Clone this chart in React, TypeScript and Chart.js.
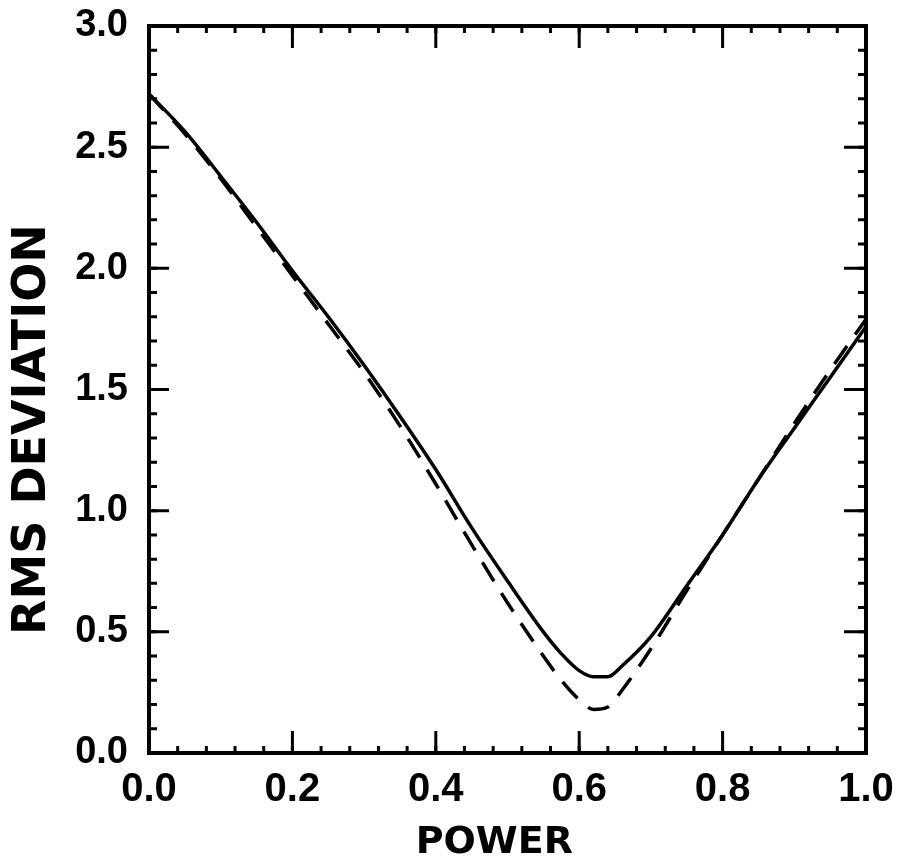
import React, { useEffect, useRef } from "react";
import { Chart, registerables } from "chart.js";

Chart.register(...registerables);

// Power values (x) shared by both curves
const powerX = [0.0, 0.05, 0.1, 0.15, 0.2, 0.25, 0.3, 0.35, 0.4, 0.45, 0.5, 0.55, 0.575, 0.6, 0.62, 0.64, 0.66, 0.7, 0.75, 0.8, 0.85, 0.9, 0.95, 1.0];
// Solid curve RMS deviation
const solidY = [2.72, 2.565, 2.38, 2.19, 1.99, 1.8, 1.6, 1.39, 1.17, 0.93, 0.71, 0.5, 0.41, 0.34, 0.315, 0.315, 0.36, 0.48, 0.69, 0.9, 1.13, 1.34, 1.55, 1.76];
// Dashed curve RMS deviation
const dashedY = [2.72, 2.555, 2.37, 2.17, 1.97, 1.77, 1.57, 1.35, 1.11, 0.86, 0.62, 0.4, 0.3, 0.22, 0.18, 0.19, 0.26, 0.43, 0.67, 0.9, 1.13, 1.36, 1.58, 1.79];

const xTicks = [0, 0.2, 0.4, 0.6, 0.8, 1.0];
const yTicks = [0, 0.5, 1.0, 1.5, 2.0, 2.5, 3.0];
const xMinorStep = 0.04;
const yMinorStep = 0.1;

const xTitle = "POWER  ";
const yTitle = "RMS DEVIATION     ";

const framePlugin = {
  id: "frameTicks",
  afterDatasetsDraw(chart: any) {
    const { ctx, chartArea } = chart;
    const xs = chart.scales.x;
    const ys = chart.scales.y;
    const { left, right, top, bottom } = chartArea;
    ctx.save();
    ctx.strokeStyle = "#000";
    ctx.lineCap = "butt";
    ctx.lineWidth = 3;
    for (let i = 0; i <= Math.round(1 / xMinorStep); i++) {
      const px = xs.getPixelForValue(i * xMinorStep);
      ctx.beginPath();
      ctx.moveTo(px, bottom);
      ctx.lineTo(px, bottom - 7);
      ctx.moveTo(px, top);
      ctx.lineTo(px, top + 7);
      ctx.stroke();
    }
    for (let i = 0; i <= Math.round(3 / yMinorStep); i++) {
      const py = ys.getPixelForValue(i * yMinorStep);
      ctx.beginPath();
      ctx.moveTo(left, py);
      ctx.lineTo(left + 8, py);
      ctx.moveTo(right, py);
      ctx.lineTo(right - 8, py);
      ctx.stroke();
    }
    xTicks.forEach((v) => {
      const px = xs.getPixelForValue(v);
      ctx.beginPath();
      ctx.moveTo(px, bottom);
      ctx.lineTo(px, bottom - 22);
      ctx.moveTo(px, top);
      ctx.lineTo(px, top + 22);
      ctx.stroke();
    });
    yTicks.forEach((v) => {
      const py = ys.getPixelForValue(v);
      ctx.beginPath();
      ctx.moveTo(left, py);
      ctx.lineTo(left + 20, py);
      ctx.moveTo(right, py);
      ctx.lineTo(right - 22, py);
      ctx.stroke();
    });
    ctx.lineWidth = 4;
    ctx.strokeRect(left, top, right - left, bottom - top);
    ctx.restore();
  },
};

export default function App() {
  const canvasRef = useRef<HTMLCanvasElement | null>(null);

  useEffect(() => {
    if (!canvasRef.current) return;
    const chart = new Chart(canvasRef.current, {
      type: "line",
      data: {
        datasets: [
          {
            label: "solid",
            data: powerX.map((x, i) => ({ x, y: solidY[i] })),
            borderColor: "#000",
            borderWidth: 3.5,
            pointRadius: 0,
            cubicInterpolationMode: "monotone",
            fill: false,
          },
          {
            label: "dashed",
            data: powerX.map((x, i) => ({ x, y: dashedY[i] })),
            borderColor: "#000",
            borderWidth: 3.5,
            borderDash: [22, 14],
            pointRadius: 0,
            cubicInterpolationMode: "monotone",
            fill: false,
          },
        ],
      },
      options: {
        animation: false,
        responsive: true,
        maintainAspectRatio: false,
        devicePixelRatio: 1,
        layout: { padding: { top: 26, right: 39, left: 0, bottom: 0 } },
        plugins: { legend: { display: false }, tooltip: { enabled: false } },
        scales: {
          x: {
            type: "linear",
            min: 0,
            max: 1,
            grid: { display: false, drawTicks: false },
            border: { display: false },
            afterFit: (s: any) => {
              s.height = 115;
              s.paddingLeft = 0;
              s.paddingRight = 0;
            },
            afterBuildTicks: (s: any) => {
              s.ticks = xTicks.map((v) => ({ value: v }));
            },
            ticks: {
              color: "#000",
              padding: 17,
              maxRotation: 0,
              font: { family: "Liberation Sans", weight: "bold", size: 40, lineHeight: 1 },
              callback: (v: any) => Number(v).toFixed(1),
            },
            title: {
              display: true,
              text: xTitle,
              color: "#000",
              padding: { top: 0, bottom: 6 },
              font: { family: "DejaVu Sans", weight: "bold", size: 38, lineHeight: 1 },
            },
          },
          y: {
            type: "linear",
            min: 0,
            max: 3,
            grid: { display: false, drawTicks: false },
            border: { display: false },
            afterFit: (s: any) => {
              s.width = 149;
              s.paddingTop = 0;
              s.paddingBottom = 0;
            },
            afterBuildTicks: (s: any) => {
              s.ticks = yTicks.map((v) => ({ value: v }));
            },
            ticks: {
              color: "#000",
              padding: 21,
              font: { family: "Liberation Sans", weight: "bold", size: 38, lineHeight: 1 },
              callback: (v: any) => Number(v).toFixed(1),
            },
            title: {
              display: true,
              text: yTitle,
              color: "#000",
              padding: { top: 10, bottom: 0 },
              font: { family: "DejaVu Sans", weight: "bold", size: 46, lineHeight: 1 },
            },
          },
        },
      },
      plugins: [framePlugin],
    });
    return () => chart.destroy();
  }, []);

  return (
    <div style={{ position: "absolute", left: 0, top: 0, width: 905, height: 868, background: "#fff" }}>
      <canvas ref={canvasRef} />
    </div>
  );
}
